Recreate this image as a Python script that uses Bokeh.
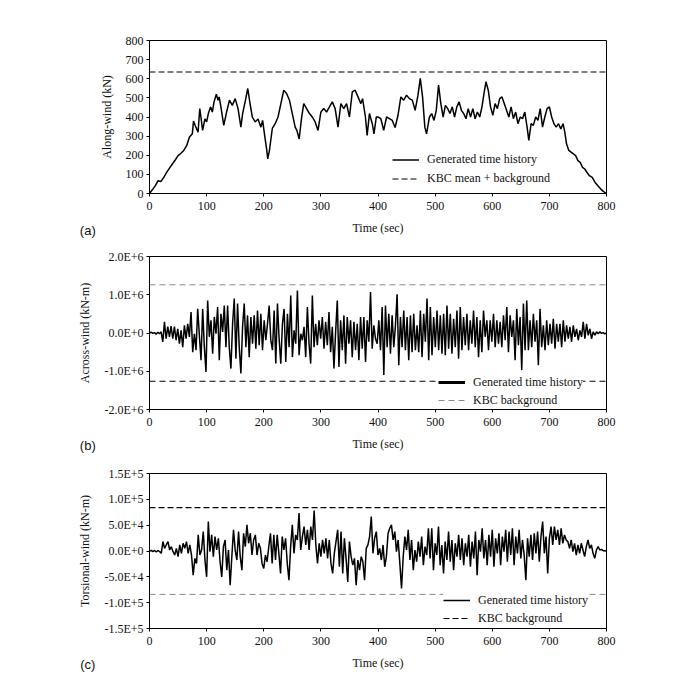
import numpy as np
from bokeh.plotting import figure
from bokeh.layouts import column
from bokeh.models import Range1d, FixedTicker, Legend, LegendItem, Label
from bokeh.embed import file_html
from bokeh.resources import INLINE

# ---------------- data ----------------
time_span = [0, 800]
time_ticks = [0, 100, 200, 300, 400, 500, 600, 700, 800]

# (a) along-wind force (kN)
along_t = [0, 10, 15, 20, 25, 30, 35, 40, 45, 50, 55, 60, 65, 70, 75, 77, 80, 85, 88, 90, 93, 97,
           100, 103, 107, 110, 113, 117, 120, 122, 125, 130, 135, 140, 145, 150, 155, 160, 163, 168,
           172, 176, 180, 185, 190, 195, 198, 202, 205, 207, 210, 215, 220, 225, 230, 235, 240, 245,
           250, 255, 258, 262, 266, 270, 275, 280, 285, 290, 295, 300, 305, 310, 315, 320, 325, 330,
           335, 340, 345, 350, 355, 360, 365, 370, 373, 378, 381, 385, 390, 393, 397,
           400, 405, 410, 415, 420, 425, 430, 435, 440, 445, 450, 455, 460, 465, 470, 474, 478, 482,
           485, 490, 494, 498, 502, 506, 510, 514, 518, 522, 526, 530, 534, 538, 542, 546, 550, 554,
           558, 562, 566, 570, 574, 578, 582, 586, 589, 593, 597, 601, 605, 609, 613, 617, 621, 625,
           629, 633, 637, 641, 645, 649, 653, 657, 661, 664, 668, 672, 676, 680, 684, 688, 692, 696,
           700, 704, 708, 712, 716, 720, 724, 727, 730, 734, 738, 742, 746, 750, 754, 758, 762, 766,
           770, 775, 780, 785, 790, 795, 800]
along_kn = [0, 40, 67, 63, 84, 110, 133, 154, 175, 198, 210, 225, 250, 295, 312, 379, 356, 320, 444, 400, 330, 390,
            374, 418, 453, 426, 479, 519, 488, 505, 453, 356, 426, 488, 461, 496, 444, 347, 418, 488,
            549, 470, 400, 374, 390, 347, 382, 295, 233, 181, 226, 340, 365, 400, 470, 540, 523, 488,
            418, 347, 330, 285, 390, 470, 444, 418, 400, 374, 330, 426, 444, 426, 453, 479, 444, 347,
            470, 444, 470, 400, 531, 540, 505, 470, 496, 400, 304, 418, 365, 312, 400,
            400, 391, 330, 400, 391, 382, 345, 409, 505, 488, 514, 496, 488, 435, 514, 602, 505, 347,
            312, 400, 418, 382, 435, 567, 470, 400, 461, 444, 418, 453, 400, 453, 479, 435, 418, 391,
            444, 400, 444, 391, 426, 400, 453, 531, 584, 540, 453, 409, 470, 444, 496, 505, 470, 435,
            400, 453, 391, 426, 365, 400, 391, 426, 347, 277, 365, 356, 400, 382, 444, 347, 400, 444,
            453, 400, 365, 347, 365, 338, 365, 321, 260, 225, 216, 207, 198, 172, 163, 137, 128, 110,
            93, 84, 58, 40, 23, 10, 0]
along_kbc = 635
along_ticks = [0, 100, 200, 300, 400, 500, 600, 700, 800]

# (b) across-wind moment, in units of 1.0E+6 kN-m (evenly sampled over 0-800 s)
across_e6 = [0.00, 0.02, -0.01, 0.01, -0.03, 0.02, -0.02, 0.03,
             -0.23, 0.29, -0.15, 0.17, -0.10, 0.18, -0.15, 0.17, -0.19, 0.11, -0.28, 0.07, -0.37, 0.20,
             -0.15, 0.24, -0.10, 0.55, -0.50, -0.02, -0.45, 0.63, -0.06, -0.71, 0.63, -0.37, -1.02, 0.85,
             -0.10, 0.33, -0.54, 0.42, -0.02, 0.68, -0.71, 0.50, 0.03, 0.72, -0.37, 0.72, -0.37, -0.93,
             0.24, 0.90, -0.67, 0.77, -0.37, -1.06, 0.16, 0.77, -0.37, 0.46, -0.63, 0.42, -0.28, 0.46,
             -0.41, 0.59, -0.32, 0.50, -0.45, 0.33, -0.19, 0.24, 0.72, -0.19, -0.45, 0.59, -0.80, 0.77,
             -0.15, -0.80, 0.24, 0.63, -0.76, 0.50, -0.37, 0.98, -0.63, 0.07, -0.28, 1.11, -0.58, -0.02,
             -0.19, 0.16, -0.63, 0.68, -0.28, -0.80, 0.98, -0.37, 0.24, -0.32, 0.33, -0.15, 0.42, -0.41,
             0.29, -0.32, 0.55, -0.50, 0.16, -0.93, 0.03, 0.85, -0.89, 0.33, -0.45, 0.46, -0.80, 0.42,
             -0.28, 0.33, -0.63, 0.29, -0.45, 0.24, -0.71, 0.42, -0.41, 0.42, -0.76, 0.33, -0.23, 1.07,
             -0.41, 0.20, -0.15,
             -0.28, 0.33, -0.45, 0.68, -1.10, 0.72, -0.37, 0.50, -0.54, 0.46, -0.37, 0.20, 1.01, -0.84,
             0.42, -0.37, 0.59, -0.45, 0.42, -0.71, 0.46, -0.50, 0.50, -0.45, 0.20, -0.50, 0.59, -0.63,
             0.50, -0.23, 0.90, -0.71, 0.68, -0.58, 0.42, -0.37, 0.59, -0.45, 0.46, -0.54, 0.50, -0.58,
             0.72, -0.41, 0.50, -0.54, 0.37, -0.37, 0.59, -0.67, 0.68, -0.45, 0.42, -0.32, 0.50, -0.45,
             0.33, -0.28, 0.59, -0.37, 0.42, -0.63, 0.33, -0.50, 0.59, -0.10, 0.33, -0.45, 0.33, -0.23,
             0.50, -0.37, 0.33, -0.28, 0.29, -0.37, 0.46, -0.19, 0.68, -0.50, 0.46, -0.10, 0.33, -0.71,
             0.63, -0.32, 0.42, -0.97, 0.77, -0.45, 0.85, -0.45, 0.33, -0.37, 0.50, -0.23, 0.33, -0.84,
             0.63, -0.37, 0.20, -0.45, 0.33, -0.32, 0.24, -0.28, 0.37, -0.41, 0.24, -0.23, 0.24, -0.37,
             0.33, -0.23, 0.20, -0.15, 0.16, -0.23, 0.20, -0.10, 0.11, -0.19, 0.07, -0.10, 0.29, -0.15,
             0.24, -0.06, 0.11, -0.15, 0.03, -0.06, 0.03, -0.02, 0.03, -0.01, 0.01, -0.02, 0.00]
across_kbc = 1.26e6
across_ticks = [-2000000, -1000000, 0, 1000000, 2000000]
across_tick_labels = ["-2.0E+6", "-1.0E+6", "0.0E+0", "1.0E+6", "2.0E+6"]

# (c) torsional moment, in units of 1.0E+4 kN-m (evenly sampled over 0-800 s)
torsion_e4 = [0.0, 0.1, -0.1, 0.1, -0.2, 0.1, -0.1,
              -0.45, 1.82, 0.52, 1.17, 1.82, 0.19, 0.84, -0.13, -0.78, 0.52, -1.10, 1.17, -0.45, 1.49,
              0.52, 1.82, -0.45, 1.17, -0.78, -4.67, -1.43, -2.40, 3.12, -0.78, 0.19, 3.76, -1.75, -5.0,
              5.71, -0.13, 3.12, -1.10, 2.79, 0.19, 2.47, -2.08, -5.0, 0.84, 2.14, -3.70, 0.19, -6.62,
              -1.10, 4.09, 0.19, -1.75, 3.76, -1.10, -3.70, 3.44, 0.84, 5.06, 1.49, 3.44, -0.78, 2.14,
              3.12, -0.78, 1.49, 0.52, -2.40, -3.37, -0.78, -2.08, 0.84, 3.44, -2.40, 3.12, -1.75, 3.12,
              -0.45, -4.35, 2.79, 0.19, 2.47, -2.40, -5.65, 0.84, 5.06, -0.45, 3.12, 2.14, 7.33, 0.19,
              2.79, 4.74, 1.17, 4.09, 0.19, 4.74, 2.14, 7.85, 1.17, -2.40, 1.49, -1.10, 2.14, -0.45,
              2.47, -1.43, 2.14, -2.40, -4.35, -0.45, 1.82, 4.09, -3.05, 3.76, -4.35, 2.47, -1.43, -5.97,
              1.82, -1.10, -2.73, -1.43, -6.62, -1.75, -3.70, -1.10, -2.08, -5.65, 0.52, 1.17, 2.79,
              6.68, -0.45, 2.47, 3.76, -0.78,
              0.52, -1.75, 1.17, -3.05, -1.10, 3.44, 4.41, 5.06, 2.14, 3.76, -0.13, 2.14, -2.40, -7.27,
              -1.10, 2.79, 0.19, 4.09, -1.75, 2.14, -3.70, 0.19, -2.08, 1.82, -1.10, 2.79, -2.73, 0.84,
              -0.78, 4.41, -1.43, 4.41, -3.70, 1.49, -0.78, 4.74, -2.73, 1.17, -4.35, 1.82, -1.75, 3.76,
              -2.08, 2.14, -3.70, 1.49, -1.10, 3.12, -1.75, 2.47, -2.73, 1.49, -1.10, 3.12, -3.05, 1.82,
              -1.43, 3.76, -4.67, 2.14, -0.13, 4.41, -1.43, 2.14, -2.73, 3.12, -1.10, 4.09, -3.05, 2.47,
              -0.45, 3.44, -2.73, 2.79, -0.13, 4.09, -2.08, 3.76, -0.78, 4.41, -2.73, 2.79, -0.45, 4.09,
              -1.43, 2.14, -0.78, -5.65, 2.47, -1.10, 3.12, -1.75, 3.44, -0.45, 3.76, -2.08, 2.79, 5.71,
              -0.45, 2.79, -4.35, 2.47, 4.74, 1.17, 4.74, 2.14, 4.09, 1.17, 4.41, 1.49, 3.12, 2.14, 1.82,
              0.52, 2.14, -0.13, 1.49, -0.78, 1.17, -0.45, 1.49, 0.19, -1.10, 0.84, 2.14, 0.52, 1.17,
              -0.45, -1.43, 0.19, 0.84, 0.19, 0.32, 0.06, 0.06, 0.0]
torsion_kbc = 8.4e4
torsion_ticks = [-150000, -100000, -50000, 0, 50000, 100000, 150000]
torsion_tick_labels = ["-1.5E+5", "-1.0E+5", "-5.0E+4", "0.0E+0", "5.0E+4", "1.0E+5", "1.5E+5"]

across = [v * 1e6 for v in across_e6]
across_t = np.linspace(time_span[0], time_span[1], len(across))
torsion = [v * 1e4 for v in torsion_e4]
torsion_t = np.linspace(time_span[0], time_span[1], len(torsion))

SERIF = "Liberation Serif"
GRAY = "#8a8a8a"


def make_fig(y_lo, y_hi, yticks, ylabels, ylab, frame_h, b_top, b_bot):
    p = figure(frame_width=457, frame_height=frame_h,
               min_border_left=149, min_border_right=14,
               min_border_top=b_top, min_border_bottom=b_bot,
               x_range=Range1d(time_span[0], time_span[1]),
               y_range=Range1d(y_lo, y_hi),
               output_backend="svg", toolbar_location=None)
    p.grid.visible = False
    p.outline_line_color = "black"
    p.outline_line_width = 1
    p.background_fill_color = "white"
    p.border_fill_color = "white"
    p.xaxis.ticker = FixedTicker(ticks=time_ticks)
    p.yaxis.ticker = FixedTicker(ticks=yticks)
    if ylabels is not None:
        p.yaxis.major_label_overrides = {t: l for t, l in zip(yticks, ylabels)}
    for ax in (p.xaxis[0], p.yaxis[0]):
        ax.axis_line_color = "black"
        ax.major_tick_line_color = "black"
        ax.minor_tick_line_color = None
        ax.major_tick_in = 0
        ax.major_tick_out = 3
        ax.major_label_text_font = SERIF
        ax.major_label_text_font_size = "12px"
        ax.major_label_text_color = "#111111"
        ax.axis_label_text_font = SERIF
        ax.axis_label_text_font_size = "12px"
        ax.axis_label_text_font_style = "normal"
        ax.axis_label_text_color = "#111111"
    p.xaxis.axis_label = "Time (sec)"
    p.xaxis.major_label_standoff = 5
    p.xaxis.axis_label_standoff = 8
    p.yaxis.axis_label = ylab
    p.yaxis.major_label_standoff = 3
    p.yaxis.axis_label_standoff = 9
    return p


def make_legend(items, x, y, row_h):
    lg = Legend(items=items, location=(x, y), orientation="vertical",
                border_line_color=None, background_fill_color="white",
                background_fill_alpha=1.0, padding=0, margin=0, spacing=0,
                glyph_width=27, glyph_height=row_h, label_height=row_h,
                label_standoff=8, label_text_font=SERIF,
                label_text_font_size="12px", label_text_color="#111111")
    return lg


def panel_tag(p, text, x, y):
    # placed in the left side panel so that it is not clipped to the frame
    p.add_layout(Label(x=x, y=y, text=text, text_font="Liberation Sans",
                       text_font_size="13px", text_align="center",
                       text_baseline="middle", text_color="#111111"), "left")


# ---------------- (a) ----------------
pa = make_fig(0, 800, along_ticks, None, "Along-wind (kN)", 153, 40, 47)
ra = pa.line(along_t, along_kn, line_color="black", line_width=1.5)
ka = pa.line(time_span, [along_kbc, along_kbc], line_color="black",
             line_width=1.1, line_dash="6 3")
pa.add_layout(make_legend([LegendItem(label="Generated time history", renderers=[ra]),
                           LegendItem(label="KBC mean + background", renderers=[ka])],
                          243, 5, 19))
panel_tag(pa, "(a)", -108, -193)

# ---------------- (b) ----------------
pb = make_fig(-2e6, 2e6, across_ticks, across_tick_labels, "Across-wind (kN-m)", 153, 16, 49)
rb = pb.line(across_t, across, line_color="black", line_width=1.5)
kb_up = pb.line(time_span, [across_kbc, across_kbc], line_color=GRAY,
                line_width=1, line_dash="6 4")
pb.line(time_span, [-across_kbc, -across_kbc], line_color="black",
        line_width=1.1, line_dash="6 4")
# legend proxy (thicker swatch, as in the reference); its single point is not drawn
rb_leg = pb.line([time_span[0]], [float("nan")], line_color="black", line_width=3)
pb.add_layout(make_legend([LegendItem(label="Generated time history", renderers=[rb_leg]),
                           LegendItem(label="KBC background", renderers=[kb_up])],
                          289, 0, 18))
panel_tag(pb, "(b)", -108, -2.94e6)

# ---------------- (c) ----------------
pc = make_fig(-1.5e5, 1.5e5, torsion_ticks, torsion_tick_labels, "Torsional-wind (kN-m)", 155, 15, 39)
rc = pc.line(torsion_t, torsion, line_color="black", line_width=1.5)
kc_up = pc.line(time_span, [torsion_kbc, torsion_kbc], line_color="black",
                line_width=1.1, line_dash="6 3")
pc.line(time_span, [-torsion_kbc, -torsion_kbc], line_color=GRAY,
        line_width=1, line_dash="6 4")
pc.add_layout(make_legend([LegendItem(label="Generated time history", renderers=[rc]),
                           LegendItem(label="KBC background", renderers=[kc_up])],
                          294, 1, 18))
panel_tag(pc, "(c)", -108, -2.2e5)

layout = column(pa, pb, pc, spacing=0)
open("out.html", "w").write(file_html(layout, INLINE))
